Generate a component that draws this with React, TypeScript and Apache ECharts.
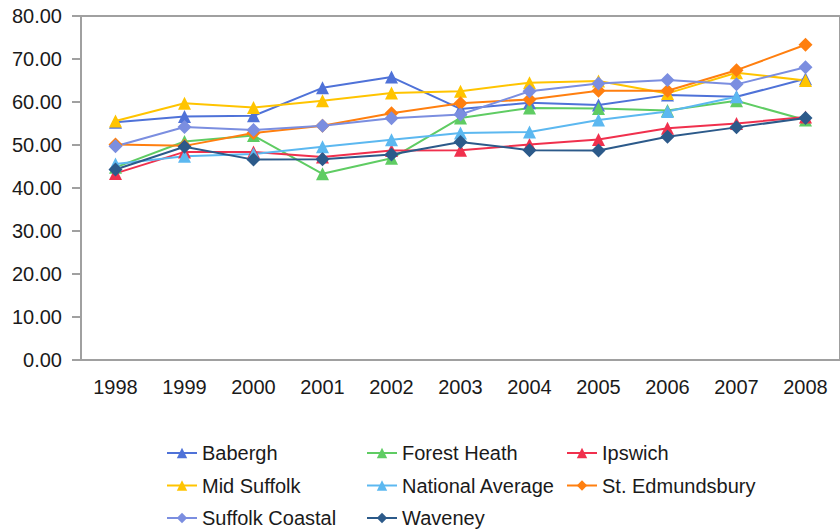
import React, { useEffect, useRef } from "react";
import * as echarts from "echarts";

const years = ["1998", "1999", "2000", "2001", "2002", "2003", "2004", "2005", "2006", "2007", "2008"];

const babergh = [55.3, 56.6, 56.8, 63.3, 65.8, 58.4, 59.8, 59.3, 61.6, 61.2, 65.4];
const forestHeath = [44.8, 50.8, 52.2, 43.3, 46.9, 56.3, 58.6, 58.5, 58.0, 60.3, 55.8];
const ipswich = [43.4, 48.4, 48.4, 47.2, 48.7, 48.8, 50.1, 51.3, 53.9, 55.0, 56.5];
const midSuffolk = [55.6, 59.7, 58.7, 60.3, 62.1, 62.5, 64.5, 64.9, 62.0, 66.8, 65.0];
const nationalAverage = [45.6, 47.4, 47.9, 49.6, 51.2, 52.8, 53.0, 55.8, 57.8, 61.2, null];
const stEdmundsbury = [50.1, 49.8, 52.8, 54.5, 57.4, 59.7, 60.6, 62.6, 62.6, 67.4, 73.3];
const suffolkCoastal = [49.7, 54.2, 53.5, 54.5, 56.2, 57.1, 62.5, 64.3, 65.1, 64.1, 68.1];
const waveney = [44.3, 49.6, 46.6, 46.7, 47.8, 50.7, 48.8, 48.7, 51.9, 54.1, 56.3];

const seriesDefs = [
  { name: "Babergh", data: babergh, color: "#4f72d8", symbol: "triangle" },
  { name: "Forest Heath", data: forestHeath, color: "#5fcc63", symbol: "triangle" },
  { name: "Ipswich", data: ipswich, color: "#f0304d", symbol: "triangle" },
  { name: "Mid Suffolk", data: midSuffolk, color: "#ffc400", symbol: "triangle" },
  { name: "National Average", data: nationalAverage, color: "#5cb8f0", symbol: "triangle" },
  { name: "St. Edmundsbury", data: stEdmundsbury, color: "#ff7f0f", symbol: "diamond" },
  { name: "Suffolk Coastal", data: suffolkCoastal, color: "#7b8ee0", symbol: "diamond" },
  { name: "Waveney", data: waveney, color: "#2c5a8a", symbol: "diamond" },
];

const legendCols = [
  ["Babergh", "Mid Suffolk", "Suffolk Coastal"],
  ["Forest Heath", "National Average", "Waveney"],
  ["Ipswich", "St. Edmundsbury"],
];

const FONT = "'Liberation Sans', Arial, sans-serif";

export default function App() {
  const ref = useRef<HTMLDivElement>(null);
  useEffect(() => {
    if (!ref.current) return;
    const chart = echarts.init(ref.current, null, { renderer: "svg" });
    const legendLefts = [166, 366, 566];
    chart.setOption({
      animation: false,
      backgroundColor: "#ffffff",
      grid: {
        left: 81,
        top: 16,
        width: 767,
        height: 344,
        show: true,
        borderColor: "#a0a0a0",
        borderWidth: 2,
      },
      legend: legendCols.map((col, i) => ({
        data: col,
        orient: "vertical",
        left: legendLefts[i],
        top: 443,
        height: 120,
        padding: 0,
        itemWidth: 30,
        itemHeight: 13,
        itemGap: 12.5,
        textStyle: { fontSize: 20, color: "#1a1a1a", fontFamily: FONT },
      })),
      xAxis: {
        type: "category",
        data: years,
        boundaryGap: true,
        axisLine: { lineStyle: { color: "#a0a0a0", width: 2 } },
        axisTick: { alignWithLabel: true, length: 10, lineStyle: { color: "#a0a0a0", width: 2 } },
        axisLabel: { fontSize: 20, color: "#1a1a1a", fontFamily: FONT, margin: 17 },
        splitLine: { show: false },
      },
      yAxis: {
        type: "value",
        min: 0,
        max: 80,
        interval: 10,
        axisLine: { show: true, lineStyle: { color: "#a0a0a0", width: 2 } },
        axisTick: { show: true, length: 9, lineStyle: { color: "#a0a0a0", width: 2 } },
        axisLabel: {
          fontSize: 20,
          color: "#1a1a1a",
          fontFamily: FONT,
          margin: 19,
          formatter: (v: number) => v.toFixed(2),
        },
        splitLine: { show: false },
      },
      series: seriesDefs.map((s) => ({
        name: s.name,
        type: "line",
        data: s.data,
        symbol: s.symbol,
        symbolSize: s.symbol === "diamond" ? 14 : 13,
        showAllSymbol: true,
        connectNulls: false,
        itemStyle: { color: s.color },
        lineStyle: { color: s.color, width: 2 },
      })),
    });
    return () => chart.dispose();
  }, []);
  return <div ref={ref} style={{ width: 840, height: 531, position: "absolute", left: 0, top: 0 }} />;
}
